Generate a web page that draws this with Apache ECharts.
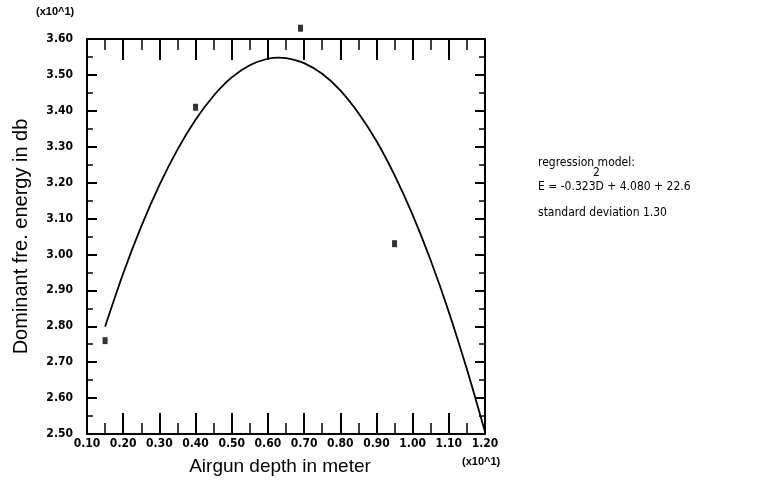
<!DOCTYPE html>
<html>
<head>
<meta charset="utf-8">
<script src="https://cdn.jsdelivr.net/npm/echarts@6/dist/echarts.min.js"></script>
<style>
html,body{margin:0;padding:0;background:#fff;}
#c{width:770px;height:492px;}
</style>
</head>
<body>
<div id="c"></div>
<script>
// Observed data points (Airgun depth x10^1 m, dominant freq. energy x10^1 db)
const pointDepth = [0.15, 0.40, 0.69, 0.95];
const pointEnergy = [2.76, 3.41, 3.63, 3.03];
// Regression curve
const curveDepth = [0.15,0.20,0.25,0.30,0.35,0.40,0.45,0.50,0.55,0.60,0.63,0.65,0.70,0.75,0.80,0.85,0.90,0.95,1.00,1.05,1.10,1.15,1.20];
const curveEnergy = [2.799,2.947,3.078,3.193,3.292,3.375,3.442,3.493,3.527,3.545,3.548,3.547,3.533,3.503,3.457,3.394,3.316,3.221,3.110,2.983,2.840,2.680,2.506];
const xMin = 0.1, xMax = 1.2, xStep = 0.1;
const yMin = 2.5, yMax = 3.6, yStep = 0.1;

const chart = echarts.init(document.getElementById('c'));
const tickFont = {color:'#000', fontFamily:'"Liberation Sans Narrow","DejaVu Sans Condensed","Liberation Sans",sans-serif', fontWeight:'bold', fontSize:12};
const axisLine = {show:true, onZero:false, lineStyle:{color:'#000', width:2}};
function xAx(pos, labels){
  return {type:'value', position:pos, min:xMin, max:xMax, interval:xStep,
    axisLine:axisLine, splitLine:{show:false},
    axisTick:{show:true, inside:true, length:21, lineStyle:{color:'#000', width:2}},
    minorTick:{show:true, splitNumber:2, length:11, lineStyle:{color:'#000', width:1.5}},
    axisLabel:labels ? Object.assign({show:true, margin:4, formatter:v=>v.toFixed(2)}, tickFont) : {show:false},
    name: labels ? 'Airgun depth in meter' : '', nameLocation:'middle', nameGap:23,
    nameTextStyle:{fontFamily:'"Liberation Sans",Arial,sans-serif', fontSize:19, color:'#000', padding:[0,12,0,0]}
  };
}
function yAx(pos, labels){
  return {type:'value', position:pos, min:yMin, max:yMax, interval:yStep,
    axisLine:axisLine, splitLine:{show:false},
    axisTick:{show:true, inside:true, length:10, lineStyle:{color:'#000', width:2}},
    minorTick:{show:true, splitNumber:2, length:6, lineStyle:{color:'#000', width:1.5}},
    axisLabel:labels ? Object.assign({show:true, margin:14, formatter:v=>v.toFixed(2)}, tickFont) : {show:false},
    name: labels ? 'Dominant fre. energy in db' : '', nameLocation:'middle', nameGap:56, nameRotate:90,
    nameTextStyle:{fontFamily:'"Liberation Sans",Arial,sans-serif', fontSize:20, color:'#000'}
  };
}
const txt = (x,y,t,style) => ({type:'text', left:x, top:y, style:Object.assign({text:t, fill:'#000', font:'12px "Liberation Sans Narrow","DejaVu Sans Condensed",sans-serif'}, style||{})});
chart.setOption({
  animation:false,
  backgroundColor:'#fff',
  grid:{left:87, right:285, top:39, bottom:58},
  xAxis:[xAx('bottom', true), xAx('top', false)],
  yAxis:[yAx('left', true), yAx('right', false)],
  series:[
    {type:'line', data:curveDepth.map((d,i)=>[d, curveEnergy[i]]), smooth:0.3, showSymbol:false,
     lineStyle:{color:'#000', width:1.8}, silent:true},
    {type:'scatter', data:pointDepth.map((d,i)=>[d, pointEnergy[i]]), symbol:'rect', symbolSize:[5,7],
     clip:false, itemStyle:{color:'#000'}}
  ],
  graphic:[
    txt(36, 6, '(x10^1)', {font:'bold 11px "Liberation Sans Narrow",sans-serif'}),
    txt(462, 456, '(x10^1)', {font:'bold 11px "Liberation Sans Narrow",sans-serif'}),
    txt(538, 157, 'regression model:'),
    txt(593, 167, '2'),
    txt(538, 181, 'E = -0.323D + 4.080 + 22.6'),
    txt(538, 207, 'standard deviation 1.30')
  ]
});
</script>
</body>
</html>
